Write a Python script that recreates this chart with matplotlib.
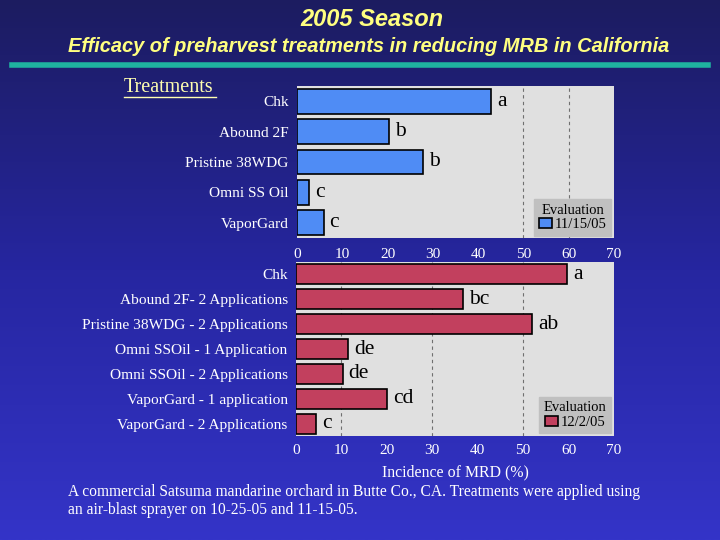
import matplotlib
matplotlib.use("Agg")
import matplotlib.pyplot as plt
import numpy as np
from matplotlib.colors import LinearSegmentedColormap

# Data
top_labels = ["Chk", "Abound 2F", "Pristine 38WDG", "Omni SS Oil", "VaporGard"]
top_values = [42.9, 20.4, 27.9, 2.6, 5.9]
top_letters = ["a", "b", "b", "c", "c"]

bot_labels = ["Chk", "Abound 2F- 2 Applications", "Pristine 38WDG - 2 Applications",
              "Omni SSOil - 1 Application", "Omni SSOil - 2 Applications",
              "VaporGard - 1 application", "VaporGard - 2 Applications"]
bot_values = [59.7, 36.8, 52.0, 11.5, 10.3, 20.0, 4.4]
bot_letters = ["a", "bc", "ab", "de", "de", "cd", "c"]

xticks = [0, 10, 20, 30, 40, 50, 60, 70]
top_grid = [50, 60]
bot_grid = [10, 30, 50]

serif = "Liberation Serif"
sans = "Liberation Sans"

fig = plt.figure(figsize=(7.2, 5.4), dpi=100)

# gradient background
bg = fig.add_axes([0, 0, 1, 1], zorder=-10)
cmap = LinearSegmentedColormap.from_list("bg", ["#1c1c60", "#2626a0", "#3434c8"])
grad = np.linspace(0, 1, 256).reshape(-1, 1)
bg.imshow(grad, aspect="auto", cmap=cmap, extent=[0, 1, 0, 1], origin="upper")
bg.set_axis_off()

# titles
fig.text(372 / 720, 1 - 19 / 540, "2005 Season", ha="center", va="center", color="#ffff80",
         fontsize=17, fontweight="bold", fontstyle="italic", family=sans)
fig.text(368.5 / 720, 1 - 46 / 540, "Efficacy of preharvest treatments in reducing MRB in California",
         ha="center", va="center", color="#ffff80", fontsize=14.4, fontweight="bold",
         fontstyle="italic", family=sans)
fig.add_artist(plt.Line2D([12 / 720, 708 / 720], [1 - 65 / 540, 1 - 65 / 540],
                          color="#1fb3a0", lw=4, transform=fig.transFigure))

# Treatments label
fig.text(124 / 720, 1 - 87 / 540, "Treatments", ha="left", va="center", color="#ffffb0",
         fontsize=14.5, family=serif)
fig.add_artist(plt.Line2D([124 / 720, 216 / 720], [1 - 97 / 540, 1 - 97 / 540],
                          color="#ffffb0", lw=1, transform=fig.transFigure))


def draw(ax, labels, values, letters, color, grid, legend_label, height, lettersize):
    ax.set_facecolor("#e0e0e0")
    y = np.arange(len(labels))
    for g in grid:
        ax.axvline(g, color="#707070", lw=0.8, ls=(0, (3, 3)), zorder=1)
    ax.barh(y, values, height=height, color=color, edgecolor="black", lw=1.2, zorder=2,
            label=legend_label)
    for yi, v, t in zip(y, values, letters):
        ax.text(v + 1.3, yi, t, ha="left", va="center", fontsize=lettersize,
                family=serif, color="black", zorder=3)
    ax.set_xlim(0, 70)
    ax.set_ylim(len(labels) - 0.5, -0.5)
    ax.set_yticks(y)
    ax.set_yticklabels(labels, family=serif, fontsize=11.1, color="white")
    ax.set_xticks(xticks)
    ax.set_xticklabels([str(t) for t in xticks], family=serif, fontsize=11, color="white")
    ax.tick_params(length=0, pad=6)
    for s in ax.spines.values():
        s.set_visible(False)
    leg = ax.legend(loc="lower right", bbox_to_anchor=(0.99, 0.015), borderaxespad=0,
                    title="Evaluation",
                    frameon=True, fancybox=False, facecolor="#c0c0c0", edgecolor="#c0c0c0",
                    framealpha=1, prop={"family": serif, "size": 10.5},
                    handlelength=0.9, handleheight=0.7, handletextpad=0.2,
                    borderpad=0.3, labelspacing=0.1)
    leg.get_title().set_fontfamily(serif)
    leg.get_title().set_fontsize(10.5)


ax1 = fig.add_axes([297 / 720, 1 - 238 / 540, 317 / 720, 152 / 540])
draw(ax1, top_labels, top_values, top_letters, "#4f8cf5", top_grid, "11/15/05", 0.82, 15.5)
ax1.tick_params(axis="x", pad=7)

ax2 = fig.add_axes([296 / 720, 1 - 436 / 540, 318 / 720, 174 / 540])
draw(ax2, bot_labels, bot_values, bot_letters, "#c2405e", bot_grid, "12/2/05", 0.8, 15.5)
ax2.set_xlabel("Incidence of MRD (%)", family=serif, fontsize=11.4, color="white", labelpad=5)

fig.text(68 / 720, 1 - 492 / 540,
         "A commercial Satsuma mandarine orchard in Butte Co., CA. Treatments were applied using",
         ha="left", va="center", color="white", fontsize=11.2, family=serif)
fig.text(68 / 720, 1 - 510 / 540, "an air-blast sprayer on 10-25-05 and 11-15-05.",
         ha="left", va="center", color="white", fontsize=11.2, family=serif)

fig.savefig("out.png", dpi=100)
